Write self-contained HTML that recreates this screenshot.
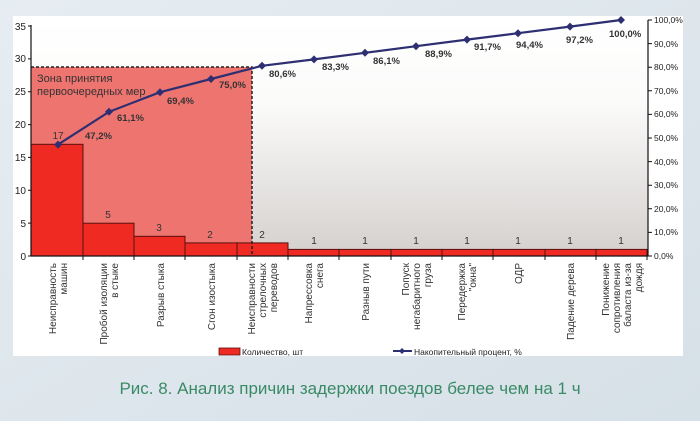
<!DOCTYPE html>
<html><head><meta charset="utf-8"><style>
body{margin:0;width:700px;height:421px;background:#dde6ec;overflow:hidden}
svg{display:block}
text{font-family:"Liberation Sans","DejaVu Sans",sans-serif}
</style></head><body>
<svg width="700" height="421" viewBox="0 0 700 421">
<defs>
<linearGradient id="g" x1="0" y1="0" x2="0" y2="1">
<stop offset="0" stop-color="#ffffff"/><stop offset="0.35" stop-color="#fbfbfa"/><stop offset="1" stop-color="#d4d0ce"/>
</linearGradient>
<linearGradient id="bg" x1="0" y1="0" x2="1" y2="1">
<stop offset="0" stop-color="#e6edf2"/><stop offset="1" stop-color="#d6e0e7"/>
</linearGradient>
</defs>
<rect width="700" height="421" fill="url(#bg)"/>
<rect x="13" y="16" width="670" height="340" fill="#ffffff"/>
<rect x="31" y="20" width="617" height="236" fill="url(#g)"/>
<rect x="31" y="67" width="221" height="189" fill="#ee7470"/>
<g fill="#ee2a22" stroke="#5a1010" stroke-width="1">
<rect x="31" y="144.3" width="52" height="111.7"/>
<rect x="83" y="223.2" width="51" height="32.8"/>
<rect x="134" y="236.3" width="51" height="19.7"/>
<rect x="185" y="242.9" width="52" height="13.1"/>
<rect x="237" y="242.9" width="51" height="13.1"/>
<rect x="288" y="249.4" width="51" height="6.6"/>
<rect x="339" y="249.4" width="52" height="6.6"/>
<rect x="391" y="249.4" width="51" height="6.6"/>
<rect x="442" y="249.4" width="51" height="6.6"/>
<rect x="493" y="249.4" width="52" height="6.6"/>
<rect x="545" y="249.4" width="51" height="6.6"/>
<rect x="596" y="249.4" width="51" height="6.6"/>
</g>
<path d="M31 67H252V256" fill="none" stroke="#222" stroke-width="1.5" stroke-dasharray="3,2"/>
<text x="37" y="82" font-size="11" fill="#333">Зона принятия</text>
<text x="37" y="95" font-size="11" fill="#333">первоочередных мер</text>
<g stroke="#111" stroke-width="1.2"><line x1="31" y1="25" x2="31" y2="256"/><line x1="31" y1="256" x2="648" y2="256"/><line x1="648" y1="20" x2="648" y2="256"/></g>
<g font-size="10" fill="#222" text-anchor="end">
<text x="26" y="260">0</text><text x="26" y="227">5</text><text x="26" y="194">10</text><text x="26" y="161">15</text><text x="26" y="128">20</text><text x="26" y="95">25</text><text x="26" y="62">30</text><text x="26" y="30">35</text>
</g>
<g stroke="#111"><path d="M28 256h3M28 223.1h3M28 190.3h3M28 157.4h3M28 124.6h3M28 91.7h3M28 58.9h3M28 26h3"/>
<path d="M648 256h4M648 232.4h4M648 208.8h4M648 185.2h4M648 161.6h4M648 138h4M648 114.4h4M648 90.8h4M648 67.2h4M648 43.6h4M648 20h4"/>
<path d="M83 256v4M134 256v4M185 256v4M237 256v4M288 256v4M339 256v4M391 256v4M442 256v4M493 256v4M545 256v4M596 256v4M647 256v4"/></g>
<g font-size="8.5" fill="#222">
<text x="654" y="259">0,0%</text><text x="654" y="235">10,0%</text><text x="654" y="212">20,0%</text><text x="654" y="188">30,0%</text><text x="654" y="165">40,0%</text><text x="654" y="141">50,0%</text><text x="654" y="117">60,0%</text><text x="654" y="94">70,0%</text><text x="654" y="70">80,0%</text><text x="654" y="47">90,0%</text><text x="654" y="23">100,0%</text>
</g>
<g font-size="10" fill="#333" text-anchor="middle">
<text x="58" y="139">17</text><text x="108" y="218">5</text><text x="159" y="231">3</text><text x="210" y="238">2</text><text x="262" y="238">2</text>
<text x="314" y="244">1</text><text x="365" y="244">1</text><text x="416" y="244">1</text><text x="467" y="244">1</text><text x="518" y="244">1</text><text x="570" y="244">1</text><text x="621" y="244">1</text>
</g>
<polyline fill="none" stroke="#2e2f72" stroke-width="2.2" points="58,144.6 109,111.8 160,92.2 211,79 262,65.8 314,59.4 365,52.8 416,46.2 467,39.6 518,33.2 570,26.6 621,20"/>
<g fill="#2e2f72">
<path d="M58 140.6l4 4-4 4-4-4z"/><path d="M109 107.8l4 4-4 4-4-4z"/><path d="M160 88.2l4 4-4 4-4-4z"/><path d="M211 75l4 4-4 4-4-4z"/><path d="M262 61.8l4 4-4 4-4-4z"/><path d="M314 55.4l4 4-4 4-4-4z"/><path d="M365 48.8l4 4-4 4-4-4z"/><path d="M416 42.2l4 4-4 4-4-4z"/><path d="M467 35.6l4 4-4 4-4-4z"/><path d="M518 29.2l4 4-4 4-4-4z"/><path d="M570 22.6l4 4-4 4-4-4z"/><path d="M621 16l4 4-4 4-4-4z"/>
</g>
<g font-size="9.5" font-weight="bold" fill="#333">
<text x="85" y="139">47,2%</text><text x="117" y="121">61,1%</text><text x="167" y="104">69,4%</text><text x="219" y="88">75,0%</text><text x="269" y="77">80,6%</text><text x="322" y="70">83,3%</text><text x="373" y="64">86,1%</text><text x="425" y="57">88,9%</text><text x="474" y="50">91,7%</text><text x="516" y="48">94,4%</text><text x="566" y="43">97,2%</text><text x="609" y="37">100,0%</text>
</g>
<g font-size="10" fill="#333" text-anchor="end">
<g transform="translate(58,263) rotate(-90)"><text x="0" y="-2">Неисправность</text><text x="0" y="9">машин</text></g>
<g transform="translate(109,263) rotate(-90)"><text x="0" y="-2">Пробой изоляции</text><text x="0" y="9">в стыке</text></g>
<g transform="translate(160,263) rotate(-90)"><text x="0" y="4">Разрыв стыка</text></g>
<g transform="translate(211,263) rotate(-90)"><text x="0" y="4">Сгон изостыка</text></g>
<g transform="translate(262,263) rotate(-90)"><text x="0" y="-7">Неисправности</text><text x="0" y="4">стрелочных</text><text x="0" y="15">переводов</text></g>
<g transform="translate(314,263) rotate(-90)"><text x="0" y="-2">Напрессовка</text><text x="0" y="9">снега</text></g>
<g transform="translate(365,263) rotate(-90)"><text x="0" y="4">Разныв пути</text></g>
<g transform="translate(416,263) rotate(-90)"><text x="0" y="-7">Попуск</text><text x="0" y="4">негабаритного</text><text x="0" y="15">груза</text></g>
<g transform="translate(467,263) rotate(-90)"><text x="0" y="-2">Передержка</text><text x="0" y="9">"окна"</text></g>
<g transform="translate(518,263) rotate(-90)"><text x="0" y="4">ОДР</text></g>
<g transform="translate(570,263) rotate(-90)"><text x="0" y="4">Падение дерева</text></g>
<g transform="translate(621,263) rotate(-90)"><text x="0" y="-12">Понижение</text><text x="0" y="-1">сопротивления</text><text x="0" y="10">баласта из-за</text><text x="0" y="21">дождя</text></g>
</g>
<rect x="219" y="348" width="21" height="7" fill="#ee2a22" stroke="#5a1010" stroke-width="0.8"/>
<text x="242" y="355" font-size="8.5" fill="#222">Количество, шт</text>
<line x1="393" y1="351" x2="412" y2="351" stroke="#2e2f72" stroke-width="2"/>
<path d="M402 348l3 3-3 3-3-3z" fill="#2e2f72"/>
<text x="414" y="355" font-size="8.5" fill="#222">Накопительный процент, %</text>
<text x="350" y="394" font-size="17" fill="#3a8a66" text-anchor="middle">Рис. 8. Анализ причин задержки поездов белее чем на 1 ч</text>
</svg>
</body></html>
